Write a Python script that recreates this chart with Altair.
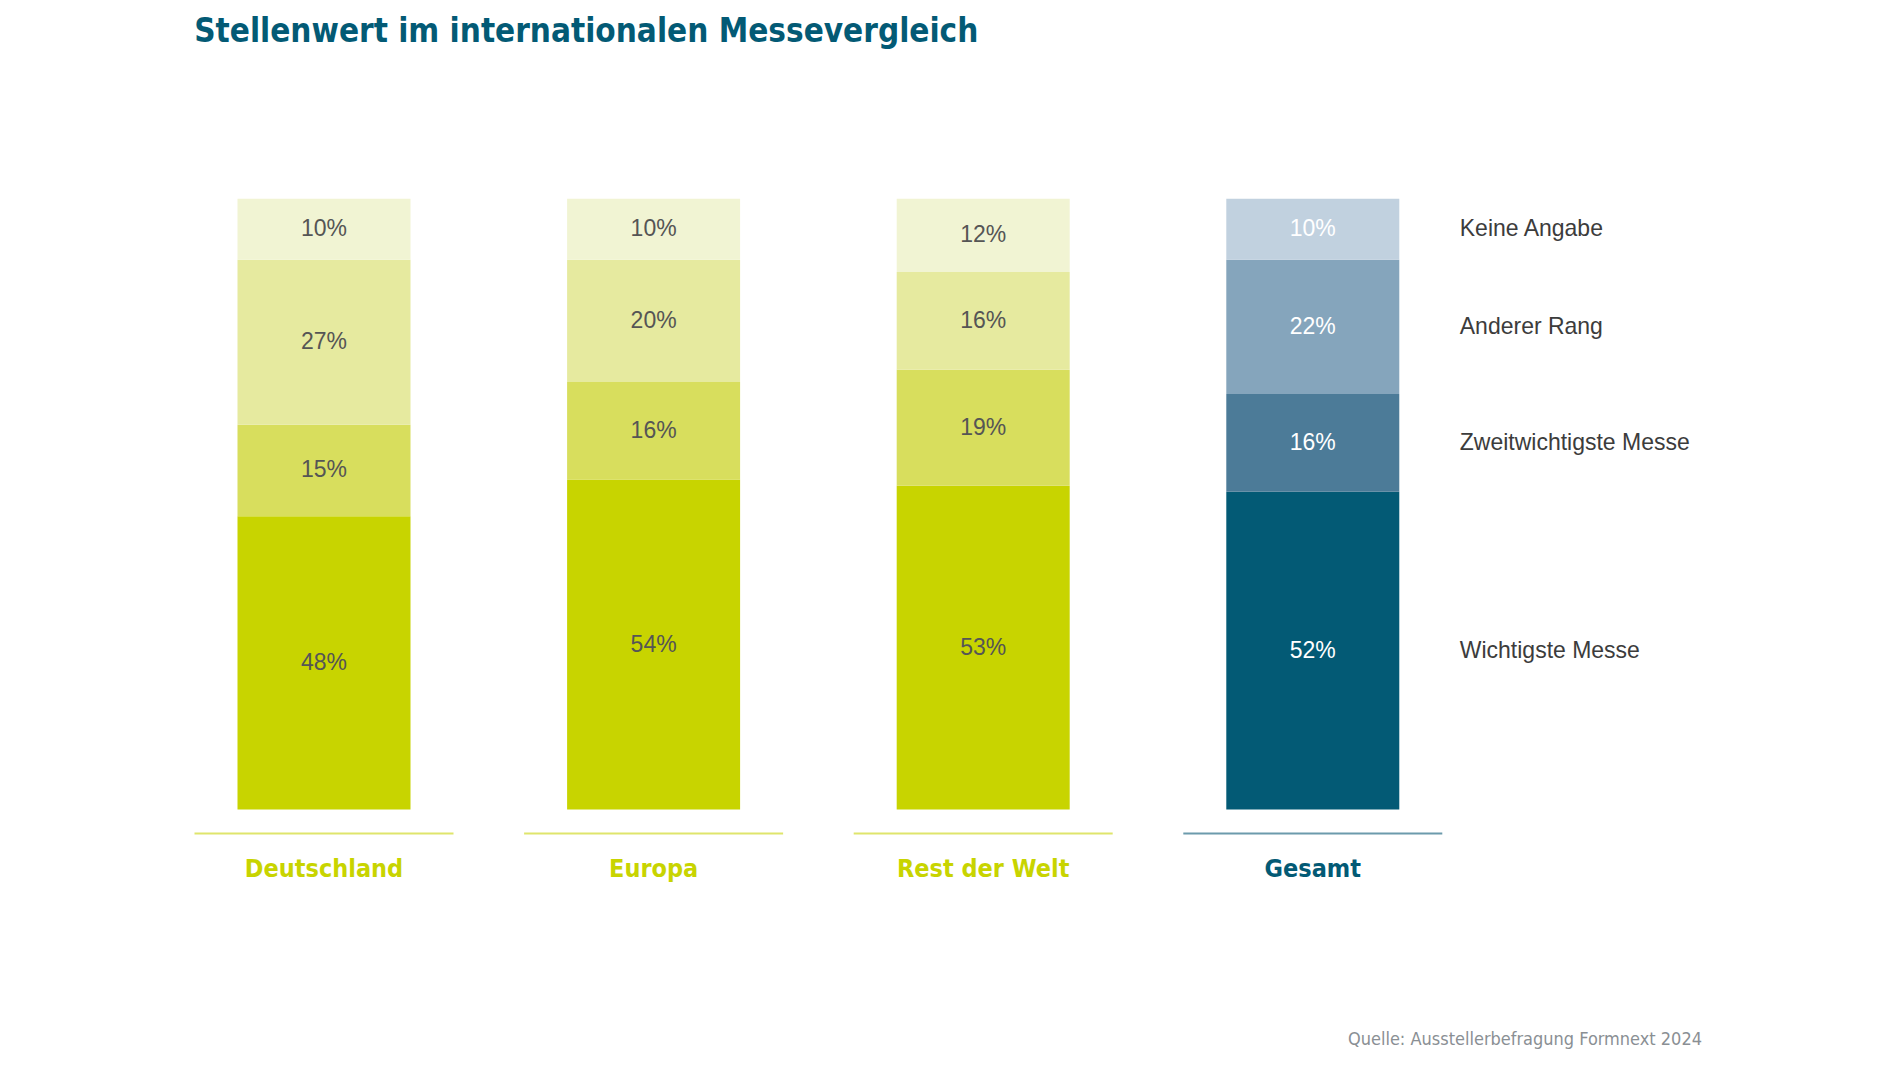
import altair as alt
import pandas as pd

categories = ["Deutschland", "Europa", "Rest der Welt", "Gesamt"]
groups = ["green", "green", "green", "blue"]
segments = ["Wichtigste Messe", "Zweitwichtigste Messe", "Anderer Rang", "Keine Angabe"]
values = {
    "Deutschland": [48, 15, 27, 10],
    "Europa": [54, 16, 20, 10],
    "Rest der Welt": [53, 19, 16, 12],
    "Gesamt": [52, 16, 22, 10],
}
green_colors = ["#c8d400", "#d8de5d", "#e6ea9f", "#f1f4d3"]
blue_colors = ["#035a75", "#4c7b98", "#85a5bc", "#c1d1df"]

rows = []
for cat, grp in zip(categories, groups):
    for i, (seg, v) in enumerate(zip(segments, values[cat])):
        rows.append({"cat": cat, "grp": grp, "seg": seg, "order": i,
                     "value": v, "key": f"{grp}|{seg}", "label": f"{v}%"})
df = pd.DataFrame(rows)
cats_df = pd.DataFrame({"cat": categories, "grp": groups})

key_domain = [f"green|{s}" for s in segments] + [f"blue|{s}" for s in segments]
key_range = green_colors + blue_colors

STEP = 329.6
W = STEP * 4
H = 610.7
COND = "Liberation Sans Narrow, DejaVu Sans Condensed, sans-serif"
REG = "Liberation Sans, Arial, sans-serif"

x_enc = alt.X("cat:N", sort=categories, axis=None,
              scale=alt.Scale(domain=categories, paddingInner=0, paddingOuter=0))
y_scale = alt.Scale(domain=[0, 100], nice=False, zero=True)

base = alt.Chart(df).transform_stack(
    stack="value", as_=["y0", "y1"], groupby=["cat"],
    sort=[alt.SortField("order", order="ascending")]
).transform_calculate(mid="(datum.y0 + datum.y1) / 2")

bars = base.mark_bar(size=173, stroke=None).encode(
    x=x_enc,
    y=alt.Y("y0:Q", scale=y_scale, axis=None),
    y2="y1:Q",
    color=alt.Color("key:N", scale=alt.Scale(domain=key_domain, range=key_range), legend=None),
)

pct = base.mark_text(fontSize=23, font=REG, baseline="middle").encode(
    x=x_enc,
    y=alt.Y("mid:Q", scale=y_scale, axis=None),
    text="label:N",
    color=alt.Color("grp:N", scale=alt.Scale(domain=["green", "blue"], range=["#555555", "#ffffff"]), legend=None),
)

legend_txt = base.transform_filter(alt.datum.cat == "Gesamt").mark_text(
    fontSize=23, font=REG, align="left", baseline="middle", dx=147, color="#3c3c3c"
).encode(
    x=x_enc,
    y=alt.Y("mid:Q", scale=y_scale, axis=None),
    text="seg:N",
)

cbase = alt.Chart(cats_df)

lines = cbase.mark_tick(size=259, thickness=2, yOffset=24).encode(
    x=x_enc,
    y=alt.datum(0, scale=y_scale),
    color=alt.Color("grp:N", scale=alt.Scale(domain=["green", "blue"], range=["#d2da2e", "#2d7189"]), legend=None),
)

cat_labels = cbase.mark_text(fontSize=25, font=COND, fontWeight="bold", baseline="middle", yOffset=60).encode(
    x=x_enc,
    y=alt.datum(0, scale=y_scale),
    text="cat:N",
    color=alt.Color("grp:N", scale=alt.Scale(domain=["green", "blue"], range=["#c8d400", "#035a75"]), legend=None),
)

source = alt.Chart(pd.DataFrame({"t": ["Quelle: Ausstellerbefragung Formnext 2024"]})).mark_text(
    fontSize=18, font=COND, align="right", baseline="middle", color="#8a8f94"
).encode(x=alt.value(1702 - 159.2), y=alt.value(1040 - 198.7), text="t:N")

chart = alt.layer(bars, pct, legend_txt, lines, cat_labels, source).resolve_scale(color="independent").properties(
    width=W, height=H,
    title=alt.TitleParams(
        "Stellenwert im internationalen Messevergleich",
        anchor="start", dx=35, offset=150, fontSize=33, font=COND, fontWeight="bold", color="#035a75",
    ),
    autosize=alt.AutoSizeParams(type="none"),
    padding={"left": 151.2, "top": 190.7, "right": 400, "bottom": 240},
).configure_view(stroke=None)

chart.save("out.html", embed_options={"renderer": "svg", "actions": False})
